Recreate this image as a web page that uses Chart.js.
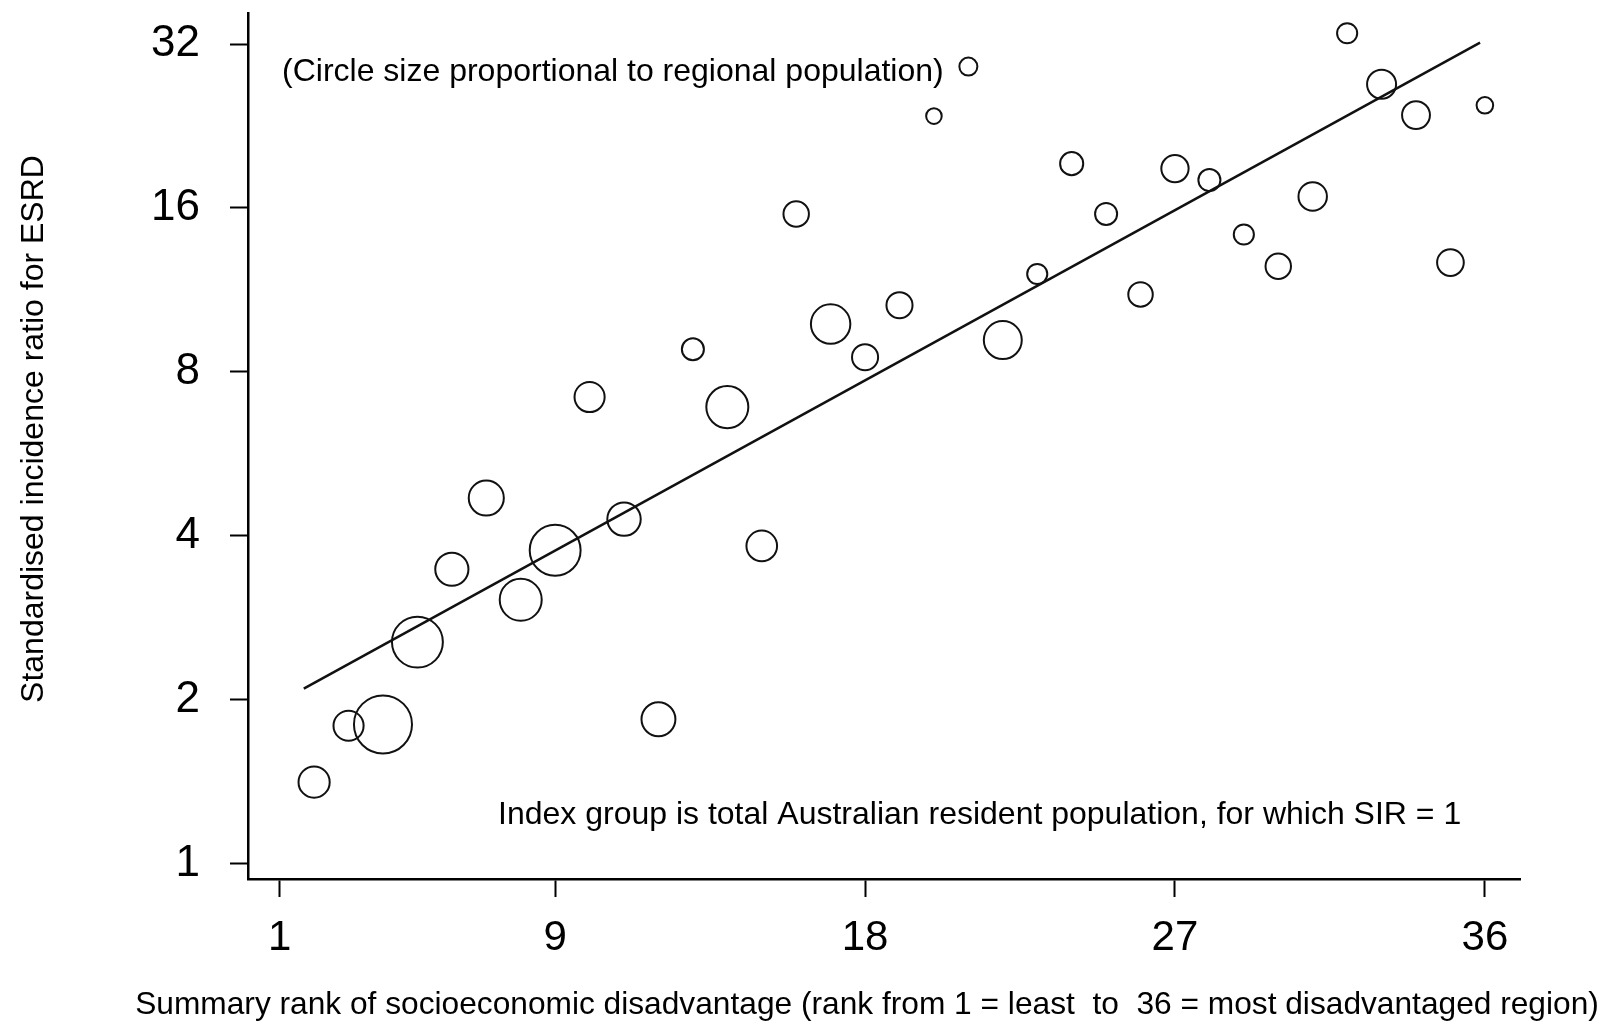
<!DOCTYPE html>
<html>
<head>
<meta charset="utf-8">
<title>SIR for ESRD by socioeconomic rank</title>
<script src="https://cdn.jsdelivr.net/npm/chart.js@4.4.1/dist/chart.umd.min.js"></script>
<style>
  html, body { margin: 0; padding: 0; background: #fff; }
  #wrap { width: 1604px; height: 1026px; }
</style>
</head>
<body>
<div id="wrap"><canvas id="chart" width="1604" height="1026"></canvas></div>
<script>
// Regions ranked by socioeconomic disadvantage vs standardised incidence ratio (log2 axis)

// --- Data ---
const ranks = [2, 3, 4, 5, 6, 7, 8, 9, 10, 11, 12, 13, 14, 15, 16, 17, 18, 19,
  20, 21, 22, 23, 24, 25, 26, 27, 28, 29, 30, 31, 32, 33, 34, 35, 36];
const sir = [1.41, 1.79, 1.80, 2.55, 3.47, 4.69, 3.05, 3.76, 7.19, 4.29, 1.84,
  8.80, 6.89, 3.83, 15.6, 9.79, 8.51, 10.6, 23.6, 29.1, 9.15, 12.1, 19.3, 15.6,
  11.1, 18.9, 18.0, 14.3, 12.5, 16.8, 33.5, 27.0, 23.7, 12.7, 24.7];
// regional population, thousands (estimated from circle areas)
const population = [300, 280, 1040, 800, 340, 380, 545, 800, 280, 345, 355, 150,
  545, 290, 200, 480, 210, 210, 75, 100, 445, 125, 165, 150, 185, 230, 150, 125,
  200, 250, 125, 260, 240, 220, 85];
// fitted regression line, two end points
const fitRank = [1.70, 35.86];
const fitSir = [2.095, 32.2];

const xTicks = [1, 9, 18, 27, 36];
const yTicks = [1, 2, 4, 8, 16, 32];

const FONT = "'Liberation Sans', Arial, sans-serif";
const popRadius = (p) => 0.9 * Math.sqrt(p);

// scales should not push the plot area in for half-label overhangs
const noOverhang = (s) => {
  s.paddingTop = 0;
  s.paddingBottom = 0;
  s.paddingLeft = 0;
  s.paddingRight = 0;
};

// --- Free text: axis titles and notes ---
const textPlugin = {
  id: "figText",
  afterDraw(chart) {
    const ctx = chart.ctx;
    ctx.save();
    ctx.fillStyle = "#000";
    ctx.font = "32px " + FONT;
    ctx.textBaseline = "middle";

    ctx.textAlign = "left";
    ctx.fillText("(Circle size proportional to regional population)", 282, 72);
    ctx.fillText("Index group is total Australian resident population, for which SIR = 1", 498, 815);

    ctx.textAlign = "center";
    ctx.font = "31.7px " + FONT;
    ctx.fillText("Summary rank of socioeconomic disadvantage (rank from 1 = least  to  36 = most disadvantaged region)", 867, 1005);

    ctx.font = "32px " + FONT;
    ctx.translate(34, 429);
    ctx.rotate(-Math.PI / 2);
    ctx.fillText("Standardised incidence ratio for ESRD", 0, 0);
    ctx.restore();
  },
};

const ctx = document.getElementById("chart").getContext("2d");
new Chart(ctx, {
  type: "bubble",
  data: {
    datasets: [
      {
        label: "Regions",
        data: ranks.map((x, i) => ({ x, y: sir[i], r: popRadius(population[i]) })),
        backgroundColor: "rgba(0,0,0,0)",
        borderColor: "#111",
        borderWidth: 2,
        hoverRadius: 0,
        clip: false,
      },
      {
        type: "line",
        label: "Fit",
        data: fitRank.map((x, i) => ({ x, y: fitSir[i] })),
        borderColor: "#111",
        borderWidth: 2.5,
        pointRadius: 0,
        fill: false,
      },
    ],
  },
  options: {
    responsive: false,
    animation: false,
    events: [],
    layout: { autoPadding: false, padding: { left: 0, top: 13, right: 84, bottom: 0 } },
    plugins: { legend: { display: false }, tooltip: { enabled: false } },
    scales: {
      x: {
        type: "linear",
        min: 0.08,
        max: 37.02,
        afterBuildTicks: (s) => { s.ticks = xTicks.map((v) => ({ value: v })); },
        afterFit: (s) => { s.height = 147; noOverhang(s); },
        border: { display: true, color: "#000", width: 2.5 },
        grid: { display: true, drawOnChartArea: false, drawTicks: true, tickLength: 18, tickWidth: 2, tickColor: "#000" },
        ticks: {
          font: { family: FONT, size: 42 },
          color: "#000",
          padding: 16,
          maxRotation: 0,
          autoSkip: false,
          callback: (v) => String(v),
        },
      },
      y: {
        type: "logarithmic",
        min: 0.936,
        max: 36.5,
        afterBuildTicks: (s) => { s.ticks = yTicks.map((v) => ({ value: v })); },
        afterFit: (s) => { s.width = 248; noOverhang(s); },
        border: { display: true, color: "#000", width: 2.5 },
        grid: { display: true, drawOnChartArea: false, drawTicks: true, tickLength: 18, tickWidth: 2, tickColor: "#000" },
        ticks: {
          font: { family: FONT, size: 44 },
          color: "#000",
          padding: 30,
          autoSkip: false,
          callback: (v) => String(v),
        },
      },
    },
  },
  plugins: [textPlugin],
});
</script>
</body>
</html>
